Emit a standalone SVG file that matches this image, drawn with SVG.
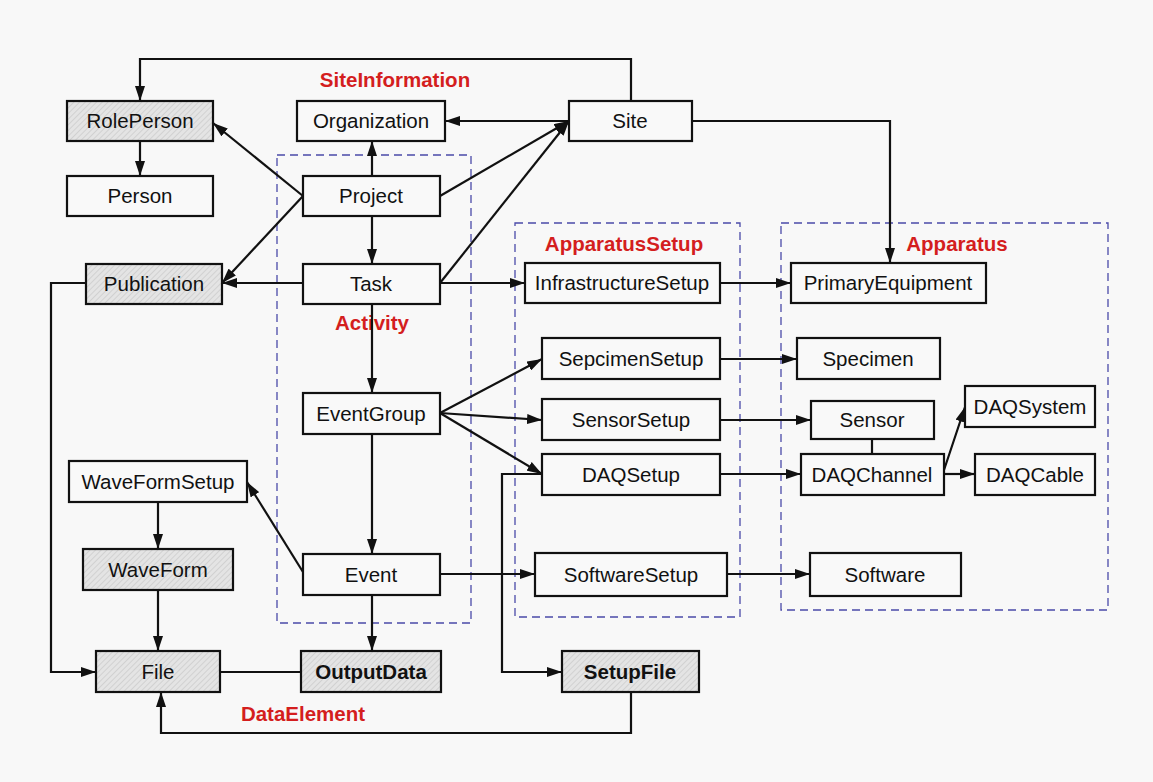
<svg xmlns="http://www.w3.org/2000/svg" width="1153" height="782" viewBox="0 0 1153 782">
<style>
.n{stroke:#111;stroke-width:2.2;fill:#f9f9f9}
.h{stroke:#111;stroke-width:2.2;fill:url(#hatch)}
.t{font-family:"Liberation Sans",Arial,sans-serif;font-size:20.5px;fill:#111;text-anchor:middle}
.b{font-weight:bold}
.lbl{font-family:"Liberation Sans",Arial,sans-serif;font-size:20.5px;font-weight:bold;fill:#d41e1e;text-anchor:middle}
.grp{fill:none;stroke:#4a4aa8;stroke-width:1.3;stroke-dasharray:8 5}
.c path{fill:none;stroke:#111;stroke-width:2.2}
.c .a{marker-end:url(#arr)}
</style>
<defs>
<pattern id="hatch" patternUnits="userSpaceOnUse" width="4" height="4" patternTransform="rotate(45)">
<rect width="4" height="4" fill="#e4e4e4"/>
<line x1="0" y1="0" x2="0" y2="4" stroke="#c4c4c4" stroke-width="1.2"/>
</pattern>
<marker id="arr" markerUnits="userSpaceOnUse" markerWidth="15" markerHeight="10" refX="15" refY="5" orient="auto">
<path d="M0,0 L15,5 L0,10 z" fill="#111"/>
</marker>
</defs>
<rect width="1153" height="782" fill="#f8f8f8"/>

<g id="groups">
<rect class="grp" x="277" y="155" width="194" height="468"/>
<rect class="grp" x="515" y="223" width="225" height="394"/>
<rect class="grp" x="781" y="223" width="327" height="387"/>
<text class="lbl" x="395" y="87">SiteInformation</text>
<text class="lbl" x="372" y="330">Activity</text>
<text class="lbl" x="624" y="251">ApparatusSetup</text>
<text class="lbl" x="957" y="251">Apparatus</text>
<text class="lbl" x="303" y="721">DataElement</text>
</g>

<g id="connectors" class="c">
<path class="a" d="M631,101 V59 H140 V101"/>
<path class="a" d="M140,141 V176"/>
<path class="a" d="M569,121 H445"/>
<path class="a" d="M372,176 V141"/>
<path class="a" d="M303,196 L213,123"/>
<path class="a" d="M303,196 L222,283"/>
<path class="a" d="M440,196 L569,121"/>
<path class="a" d="M440,283 L569,121"/>
<path class="a" d="M372,216 V264"/>
<path class="a" d="M303,283 H222"/>
<path class="a" d="M440,283 H525"/>
<path class="a" d="M720,283 H791"/>
<path class="a" d="M692,121 H890 V263"/>
<path class="a" d="M372,304 V393"/>
<path class="a" d="M440,413 L542,359"/>
<path class="a" d="M440,413 L542,420"/>
<path class="a" d="M440,413 L542,474"/>
<path class="a" d="M372,434 V554"/>
<path class="a" d="M303,572 L247,482"/>
<path class="a" d="M158,502 V549"/>
<path class="a" d="M158,590 V651"/>
<path class="a" d="M86,283 H51 V672 H96"/>
<path d="M220,672 H301"/>
<path class="a" d="M372,595 V651"/>
<path class="a" d="M542,474 H502 V672 H562"/>
<path class="a" d="M631,692 V733 H161 V692"/>
<path class="a" d="M440,574 H535"/>
<path class="a" d="M720,359 H797"/>
<path class="a" d="M720,420 H811"/>
<path class="a" d="M720,474 H801"/>
<path d="M872,439 V454"/>
<path class="a" d="M944,470 L965,407"/>
<path class="a" d="M944,474 H975"/>
<path class="a" d="M727,574 H810"/>
</g>

<g id="RolePerson"><rect class="h" x="67" y="101" width="146" height="40"/><text class="t" x="140" y="128">RolePerson</text></g>
<g id="Person"><rect class="n" x="67" y="176" width="146" height="40"/><text class="t" x="140" y="203">Person</text></g>
<g id="Organization"><rect class="n" x="297" y="101" width="148" height="40"/><text class="t" x="371" y="128">Organization</text></g>
<g id="Site"><rect class="n" x="569" y="101" width="123" height="40"/><text class="t" x="630" y="128">Site</text></g>
<g id="Project"><rect class="n" x="303" y="176" width="137" height="40"/><text class="t" x="371" y="203">Project</text></g>
<g id="Task"><rect class="n" x="303" y="264" width="137" height="40"/><text class="t" x="371" y="291">Task</text></g>
<g id="Publication"><rect class="h" x="86" y="264" width="136" height="40"/><text class="t" x="154" y="291">Publication</text></g>
<g id="InfrastructureSetup"><rect class="n" x="525" y="263" width="195" height="40"/><text class="t" x="622" y="290">InfrastructureSetup</text></g>
<g id="PrimaryEquipment"><rect class="n" x="791" y="263" width="195" height="40"/><text class="t" x="888" y="290">PrimaryEquipment</text></g>
<g id="SepcimenSetup"><rect class="n" x="542" y="338" width="178" height="41"/><text class="t" x="631" y="366">SepcimenSetup</text></g>
<g id="Specimen"><rect class="n" x="797" y="338" width="143" height="41"/><text class="t" x="868" y="366">Specimen</text></g>
<g id="SensorSetup"><rect class="n" x="542" y="399" width="178" height="41"/><text class="t" x="631" y="427">SensorSetup</text></g>
<g id="Sensor"><rect class="n" x="811" y="401" width="123" height="38"/><text class="t" x="872" y="427">Sensor</text></g>
<g id="DAQSystem"><rect class="n" x="965" y="386" width="130" height="41"/><text class="t" x="1030" y="414">DAQSystem</text></g>
<g id="DAQSetup"><rect class="n" x="542" y="454" width="178" height="41"/><text class="t" x="631" y="482">DAQSetup</text></g>
<g id="DAQChannel"><rect class="n" x="801" y="454" width="143" height="41"/><text class="t" x="872" y="482">DAQChannel</text></g>
<g id="DAQCable"><rect class="n" x="975" y="454" width="120" height="41"/><text class="t" x="1035" y="482">DAQCable</text></g>
<g id="EventGroup"><rect class="n" x="303" y="393" width="137" height="41"/><text class="t" x="371" y="421">EventGroup</text></g>
<g id="WaveFormSetup"><rect class="n" x="69" y="461" width="178" height="41"/><text class="t" x="158" y="489">WaveFormSetup</text></g>
<g id="WaveForm"><rect class="h" x="83" y="549" width="150" height="41"/><text class="t" x="158" y="577">WaveForm</text></g>
<g id="Event"><rect class="n" x="303" y="554" width="137" height="41"/><text class="t" x="371" y="582">Event</text></g>
<g id="SoftwareSetup"><rect class="n" x="535" y="553" width="192" height="43"/><text class="t" x="631" y="582">SoftwareSetup</text></g>
<g id="Software"><rect class="n" x="810" y="553" width="151" height="43"/><text class="t" x="885" y="582">Software</text></g>
<g id="File"><rect class="h" x="96" y="651" width="124" height="41"/><text class="t" x="158" y="679">File</text></g>
<g id="OutputData"><rect class="h" x="301" y="651" width="140" height="41"/><text class="t b" x="371" y="679">OutputData</text></g>
<g id="SetupFile"><rect class="h" x="562" y="651" width="137" height="41"/><text class="t b" x="630" y="679">SetupFile</text></g>
</svg>
